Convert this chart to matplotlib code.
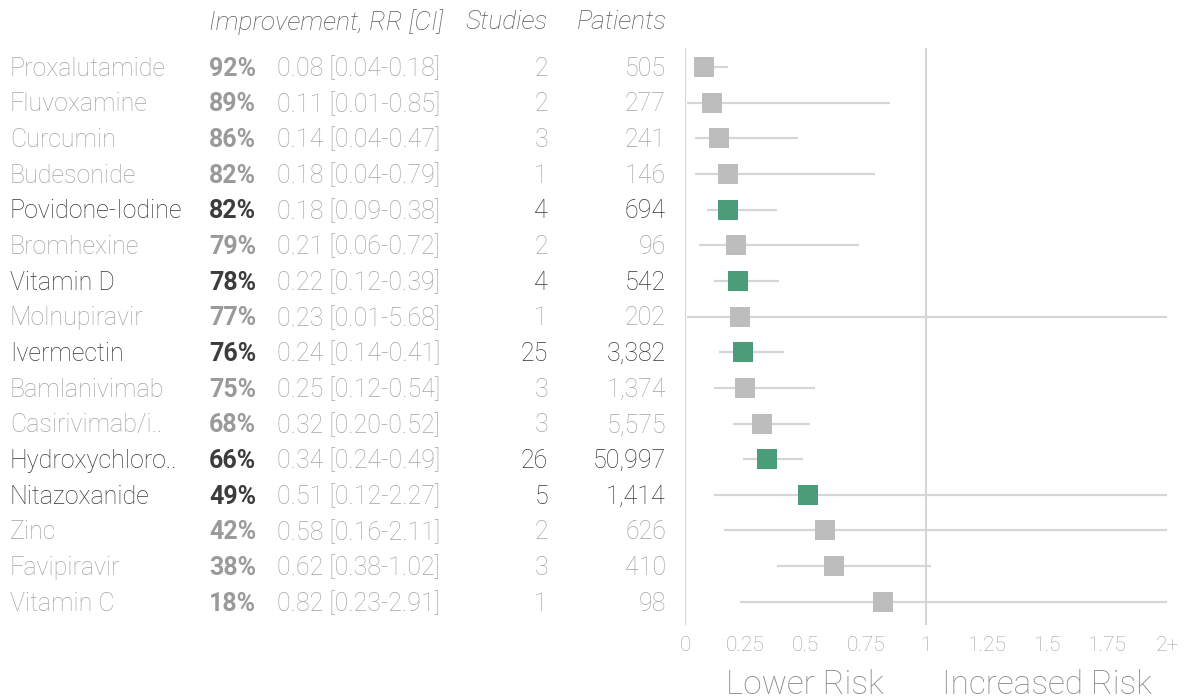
import matplotlib.pyplot as plt
import matplotlib.transforms as mtransforms

plt.rcParams['font.family'] = ['Roboto', 'DejaVu Sans']

names = ['Proxalutamide', 'Fluvoxamine', 'Curcumin', 'Budesonide', 'Povidone-Iodine',
         'Bromhexine', 'Vitamin D', 'Molnupiravir', 'Ivermectin', 'Bamlanivimab',
         'Casirivimab/i..', 'Hydroxychloro..', 'Nitazoxanide', 'Zinc', 'Favipiravir', 'Vitamin C']
improvement = [92, 89, 86, 82, 82, 79, 78, 77, 76, 75, 68, 66, 49, 42, 38, 18]
rr = [0.08, 0.11, 0.14, 0.18, 0.18, 0.21, 0.22, 0.23, 0.24, 0.25, 0.32, 0.34, 0.51, 0.58, 0.62, 0.82]
ci_lo = [0.04, 0.01, 0.04, 0.04, 0.09, 0.06, 0.12, 0.01, 0.14, 0.12, 0.20, 0.24, 0.12, 0.16, 0.38, 0.23]
ci_hi = [0.18, 0.85, 0.47, 0.79, 0.38, 0.72, 0.39, 5.68, 0.41, 0.54, 0.52, 0.49, 2.27, 2.11, 1.02, 2.91]
studies = [2, 2, 3, 1, 4, 2, 4, 1, 25, 3, 3, 26, 5, 2, 3, 1]
patients = [505, 277, 241, 146, 694, 96, 542, 202, 3382, 1374, 5575, 50997, 1414, 626, 410, 98]
highlight = [False, False, False, False, True, False, True, False, True, False,
             False, True, True, False, False, False]
xticks = [0, 0.25, 0.5, 0.75, 1, 1.25, 1.5, 1.75, 2]
xticklabels = ['0', '0.25', '0.5', '0.75', '1', '1.25', '1.5', '1.75', '2+']

W, H = 1185, 700
fig = plt.figure(figsize=(W / 100, H / 100), dpi=100)
ax = fig.add_axes([685 / W, 1 - 625 / H, (1167 - 685) / W, (625 - 48) / H])

gray_txt = '#a4a4a4'
dark_txt = '#363636'
line_c = '#d6d6d6'
green = '#4b9c79'
gray_box = '#bdbdbd'

ax.axvline(0, color=line_c, lw=1.5, zorder=1)
ax.axvline(1, color=line_c, lw=1.5, zorder=1)

for i in range(len(names)):
    ax.plot([ci_lo[i], min(ci_hi[i], 2)], [i, i], color=line_c, lw=1.6, zorder=2,
            solid_capstyle='butt')
    ax.plot(rr[i], i, marker='s', ms=14.5, mew=0,
            color=green if highlight[i] else gray_box, zorder=3)

ax.set_xlim(0, 2)
ax.set_ylim(15.65, -0.53)
ax.set_yticks([])
ax.set_xticks(xticks)
ax.set_xticklabels(xticklabels, fontsize=15, color='#a0a0a0', fontweight='light')
ax.tick_params(axis='x', length=0, pad=8)
for s in ax.spines.values():
    s.set_visible(False)

# table on the left, x in figure fraction, y in data
tr = mtransforms.blended_transform_factory(fig.transFigure, ax.transData)
fs = 18
for i in range(len(names)):
    c = dark_txt if highlight[i] else gray_txt
    pc = '#3c3c3c' if highlight[i] else '#9a9a9a'
    y = i + 0.05
    fig.text(10 / W, y, names[i], transform=tr, fontsize=fs, color=c,
             va='center', ha='left', fontweight='light')
    fig.text(209 / W, y, '%d%%' % improvement[i], transform=tr, fontsize=fs, color=pc,
             va='center', ha='left', fontweight='bold')
    fig.text(277 / W, y, '%.2f [%.2f-%.2f]' % (rr[i], ci_lo[i], ci_hi[i]), transform=tr,
             fontsize=fs, color=gray_txt, va='center', ha='left', fontweight='light')
    fig.text(548 / W, y, str(studies[i]), transform=tr, fontsize=fs, color=c,
             va='center', ha='right', fontweight='light')
    fig.text(666 / W, y, '{:,}'.format(patients[i]), transform=tr, fontsize=fs, color=c,
             va='center', ha='right', fontweight='light')

hy = 1 - 22 / H
fig.text(209 / W, hy, 'Improvement, RR [CI]', fontsize=19, style='italic', color='#5a5a5a',
         va='center', ha='left', fontweight='light')
fig.text(548 / W, hy, 'Studies', fontsize=19, style='italic', color='#5a5a5a',
         va='center', ha='right', fontweight='light')
fig.text(667 / W, hy, 'Patients', fontsize=19, style='italic', color='#5a5a5a',
         va='center', ha='right', fontweight='light')

fig.text(805 / W, 1 - 685 / H, 'Lower Risk', fontsize=24, color='#8a8a8a',
         va='center', ha='center', fontweight='light')
fig.text(1047 / W, 1 - 685 / H, 'Increased Risk', fontsize=24, color='#8a8a8a',
         va='center', ha='center', fontweight='light')

fig.savefig('out.png', dpi=100)
